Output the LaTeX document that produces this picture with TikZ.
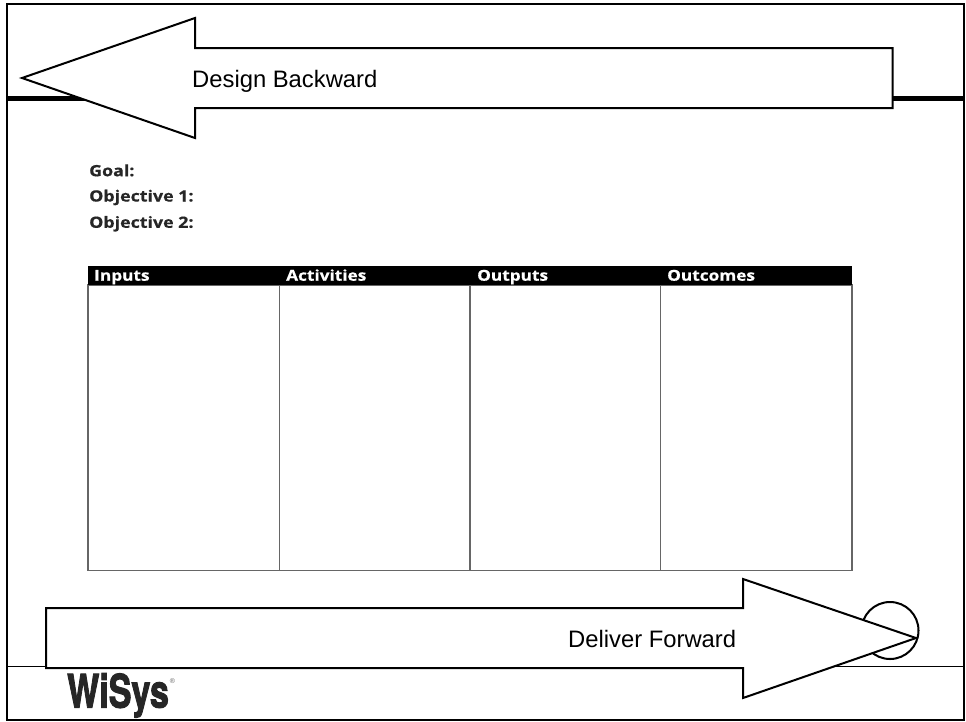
\documentclass[tikz,border=0pt]{standalone}
\usepackage{fontspec}
\setmainfont{Liberation Sans}
\newfontfamily\labelfont[FakeStretch=1.15,FakeBold=0.6]{Open Sans}
\newfontfamily\logofont[FakeBold=2.5]{TeX Gyre Heros}
\usetikzlibrary{calc}

\tikzset{
  bigarrow/.style={draw=black, fill=white, line width=2pt, line join=miter},
  arrowtext/.style={font=\fontsize{23.8}{28}\selectfont, inner sep=0pt, anchor=base west},
  goaltext/.style={font=\labelfont\bfseries\fontsize{15.5}{17}\selectfont, text=black!85, inner sep=0pt, anchor=base west},
  headtext/.style={font=\labelfont\bfseries\fontsize{15}{17}\selectfont, text=white, inner sep=0pt, anchor=base west},
  tableline/.style={draw=black!60, line width=1.4pt}
}

\begin{document}
\begin{tikzpicture}[x=1pt, y=-1pt]
      \useasboundingbox (0,0) rectangle (966,721);

      % Slide frame and its two rules
      \draw[line width=2pt] (7,3.5) rectangle (964,719.5);
      \draw[line width=5pt] (7,98) -- (964,98);
      \draw[line width=0.9pt] (7,666.5) -- (964,666.5);

      % Goal lines
      \node[goaltext] (goal) at (89,176.2) {Goal:};
      \node[goaltext] (objone) at (89,201.5) {Objective 1:};
      \node[goaltext] (objtwo) at (89,227.8) {Objective 2:};

      % Table: outer box, column rules, header bar
      \draw[tableline] (88,285) rectangle (852,570.7);
      \draw[tableline] (279.5,285) -- (279.5,570.7);
      \draw[tableline] (470,285) -- (470,570.7);
      \draw[tableline] (660.5,285) -- (660.5,570.7);
      \fill[black] (88,266) rectangle (852,285);

      % Column titles
      \node[headtext] (inputs) at (94,280.7) {Inputs};
      \node[headtext] (activities) at (286,280.7) {Activities};
      \node[headtext] (outputs) at (477,280.7) {Outputs};
      \node[headtext] (outcomes) at (667,280.7) {Outcomes};

      % Circle behind the tip of the lower arrow
      \draw[line width=2pt] (890,630.5) circle (28.5);

      % Upper arrow, pointing left
      \draw[bigarrow] (22,78) -- (195,18) -- (195,48) -- (892.5,48)
        -- (892.5,108) -- (195,108) -- (195,138) -- cycle;
      \node[arrowtext] (backward) at (192,87) {Design Backward};

      % Lower arrow, pointing right
      \draw[bigarrow] (46,608) -- (743,608) -- (743,579) -- (916,638)
        -- (743,698) -- (743,668) -- (46,668) -- cycle;
      \node[arrowtext] (forward) at (568,647) {Deliver Forward};

      % Logo
      \node[inner sep=0pt, anchor=base west, text=black!85] (logo) at (67,707.5)
        {\scalebox{0.74}[1]{\logofont\bfseries\fontsize{46}{47}\selectfont WiSys}};
      \node[inner sep=0pt, text=black!60, font=\fontsize{7}{8}\selectfont] (regmark) at (172.5,681.5) {®};
    \end{tikzpicture}
\end{document}
